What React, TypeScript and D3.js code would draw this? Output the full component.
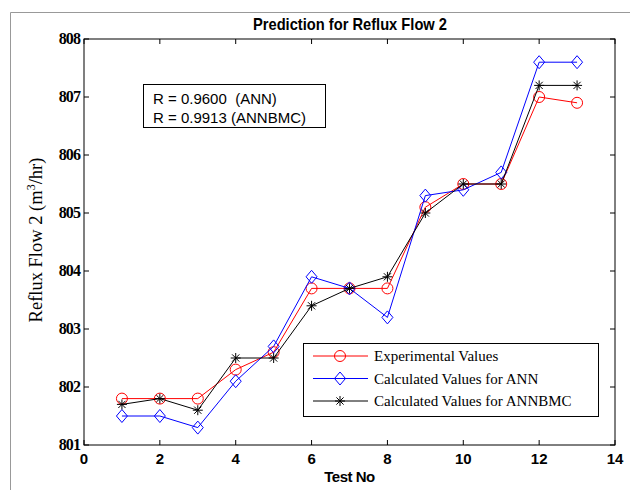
import React from "react";
import * as d3 from "d3";

const testNo = [1, 2, 3, 4, 5, 6, 7, 8, 9, 10, 11, 12, 13];
const experimental = [801.8, 801.8, 801.8, 802.3, 802.6, 803.7, 803.7, 803.7, 805.1, 805.5, 805.5, 807.0, 806.9];
const annValues = [801.5, 801.5, 801.3, 802.1, 802.7, 803.9, 803.7, 803.2, 805.3, 805.4, 805.7, 807.6, 807.6];
const annbmcValues = [801.7, 801.8, 801.6, 802.5, 802.5, 803.4, 803.7, 803.9, 805.0, 805.5, 805.5, 807.2, 807.2];
const xTicks = [0, 2, 4, 6, 8, 10, 12, 14];
const yTicks = [801, 802, 803, 804, 805, 806, 807, 808];
const seriesNames = ["Experimental Values", "Calculated Values for ANN", "Calculated Values for ANNBMC"];
const rLines = ["R = 0.9600  (ANN)", "R = 0.9913 (ANNBMC)"];

const L = 84, R = 615, T = 39, B = 445;

function Marker({ kind, x, y, color }: { kind: string; x: number; y: number; color: string }) {
  if (kind === "circle") return <circle cx={x} cy={y} r={5.5} fill="none" stroke={color} strokeWidth={1} />;
  if (kind === "diamond")
    return <path d={`M${x},${y - 6.5}L${x + 5.5},${y}L${x},${y + 6.5}L${x - 5.5},${y}Z`} fill="none" stroke={color} strokeWidth={1} />;
  const s = 5;
  const d = 3.6;
  return (
    <path
      d={`M${x - s},${y}L${x + s},${y}M${x},${y - s}L${x},${y + s}M${x - d},${y - d}L${x + d},${y + d}M${x - d},${y + d}L${x + d},${y - d}`}
      stroke={color}
      strokeWidth={1}
      fill="none"
    />
  );
}

export default function App() {
  const x = d3.scaleLinear().domain([0, 14]).range([L, R]);
  const y = d3.scaleLinear().domain([801, 808]).range([B, T]);
  const line = d3.line<number>().x((_, i) => x(testNo[i])).y((d) => y(d));
  const series = [
    { vals: experimental, color: "#ff0000", kind: "circle" },
    { vals: annValues, color: "#0000ff", kind: "diamond" },
    { vals: annbmcValues, color: "#000000", kind: "star" },
  ];
  const tick = 5;
  return (
    <svg width={630} height={490} style={{ position: "absolute", left: 0, top: 0 }}>
      <rect x={0} y={0} width={630} height={490} fill="#fff" />
      <path d="M10.5,490V12.5H630" fill="none" stroke="#999" strokeWidth={1} />
      <text x={350} y={30} textAnchor="middle" fontFamily="Liberation Sans, Arial" fontWeight="bold" fontSize={17} textLength={194} lengthAdjust="spacingAndGlyphs">
        Prediction for Reflux Flow 2
      </text>
      <rect x={L} y={T} width={R - L} height={B - T} fill="#fff" stroke="#000" strokeWidth={1} />
      {xTicks.map((t) => (
        <g key={"x" + t}>
          <line x1={x(t)} x2={x(t)} y1={B} y2={B - tick} stroke="#000" />
          <line x1={x(t)} x2={x(t)} y1={T} y2={T + tick} stroke="#000" />
          <text x={x(t)} y={B + 19} textAnchor="middle" fontFamily="Liberation Sans, Arial" fontWeight="bold" fontSize={15}>
            {t}
          </text>
        </g>
      ))}
      {yTicks.map((t) => (
        <g key={"y" + t}>
          <line x1={L} x2={L + tick} y1={y(t)} y2={y(t)} stroke="#000" />
          <line x1={R} x2={R - tick} y1={y(t)} y2={y(t)} stroke="#000" />
          <text x={L - 4} y={y(t) + 5} textAnchor="end" fontFamily="Liberation Serif, Times New Roman" fontWeight="bold" fontSize={16} letterSpacing={-0.9}>
            {t}
          </text>
        </g>
      ))}
      <text x={(L + R) / 2} y={482} textAnchor="middle" fontFamily="Liberation Sans, Arial" fontWeight="bold" fontSize={15} letterSpacing={-0.5}>
        Test No
      </text>
      <text transform={`translate(42,240) rotate(-90)`} textAnchor="middle" fontFamily="Liberation Serif, Times New Roman" fontSize={18.5}>
        Reflux Flow 2 (m<tspan dy={-7} fontSize={12}>3</tspan><tspan dy={7}>/hr)</tspan>
      </text>
      {series.map((s, si) => (
        <g key={"s" + si}>
          <path d={line(s.vals) || ""} fill="none" stroke={s.color} strokeWidth={1} />
          {s.vals.map((v, i) => (
            <Marker key={i} kind={s.kind} x={x(testNo[i])} y={y(v)} color={s.color} />
          ))}
        </g>
      ))}
      <rect x={143.5} y={84.5} width={182} height={43} fill="#fff" stroke="#000" strokeWidth={1} />
      {rLines.map((t, i) => (
        <text key={t} x={153} y={104 + i * 19} fontFamily="Liberation Sans, Arial" fontSize={15} xmlSpace="preserve" style={{ whiteSpace: "pre" }}>
          {t}
        </text>
      ))}
      <rect x={303.5} y={343.5} width={295} height={73} fill="#fff" stroke="#000" strokeWidth={1} />
      {series.map((s, i) => {
        const ly = 356 + i * 22.5;
        return (
          <g key={"l" + i}>
            <line x1={313} x2={368} y1={ly} y2={ly} stroke={s.color} strokeWidth={1} />
            <Marker kind={s.kind} x={340} y={ly} color={s.color} />
            <text x={374} y={ly + 5} fontFamily="Liberation Serif, Times New Roman" fontSize={15}>
              {seriesNames[i]}
            </text>
          </g>
        );
      })}
    </svg>
  );
}
